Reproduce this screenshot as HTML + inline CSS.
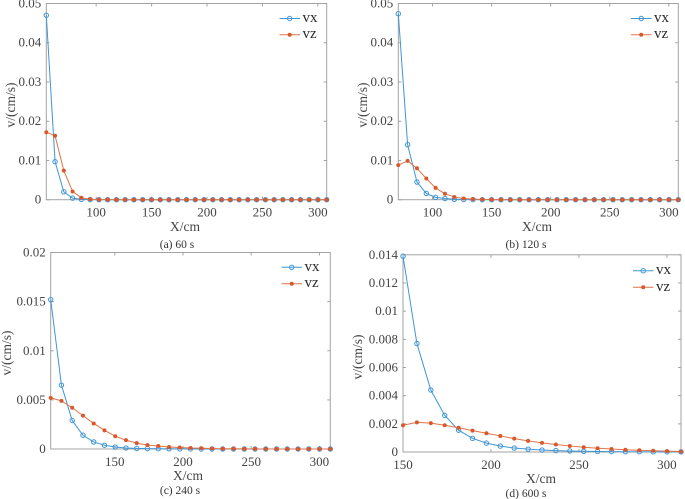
<!DOCTYPE html>
<html>
<head>
<meta charset="utf-8">
<style>
html,body{margin:0;padding:0;background:#fff;width:685px;height:499px;overflow:hidden}
svg{display:block;font-family:"Liberation Serif",serif;filter:blur(0.35px)}
</style>
</head>
<body>
<svg id="fig" width="685" height="499" viewBox="0 0 685 499" xmlns="http://www.w3.org/2000/svg"></svg>
<script>
// Panel (a) 60 s
const aStart = 55;
const aVx = [0.047,0.0097,0.002,0.0004,0.0001,0.00003,0.00001,0,0,0,0,0,0,0,0,0,0,0,0,0,0,0,0,0,0,0,0,0,0,0,0,0,0];
const aVz = [0.0172,0.0163,0.0074,0.0021,0.0005,0.0001,0.00003,0.00001,0,0,0,0,0,0,0,0,0,0,0,0,0,0,0,0,0,0,0,0,0,0,0,0,0];
const aYTicks = [0,0.01,0.02,0.03,0.04,0.05];
const aYLabels = ["0","0.01","0.02","0.03","0.04","0.05"];
const aXTicks = [100,150,200,250,300];

// Panel (b) 120 s
const bStart = 71;
const bVx = [0.0474,0.014,0.0045,0.0016,0.0006,0.0003,0.0001,0.00005,0.00002,0.00001,0,0,0,0,0,0,0,0,0,0,0,0,0,0,0,0,0,0,0,0,0];
const bVz = [0.0088,0.0099,0.008,0.0054,0.003,0.0015,0.0007,0.0003,0.00015,0.00007,0.00003,0.00001,0,0,0,0,0,0,0,0,0,0,0,0,0,0,0,0,0,0,0];
const bYTicks = [0,0.01,0.02,0.03,0.04,0.05];
const bYLabels = ["0","0.01","0.02","0.03","0.04","0.05"];
const bXTicks = [100,150,200,250,300];

// Panel (c) 240 s
const cStart = 103;
const cVx = [0.0152,0.0065,0.0029,0.0014,0.00072,0.00038,0.0002,0.0001,0.00006,0.00004,0.00003,0.00002,0.00001,0.00001,0,0,0,0,0,0,0,0,0,0,0,0,0];
const cVz = [0.0052,0.0049,0.0042,0.0034,0.0026,0.0019,0.0013,0.0009,0.0006,0.0004,0.0003,0.0002,0.00015,0.0001,0.00008,0.00005,0.00003,0.00002,0.00001,0.00001,0,0,0,0,0,0,0];
const cYTicks = [0,0.005,0.01,0.015,0.02];
const cYLabels = ["0","0.005","0.01","0.015","0.02"];
const cXTicks = [150,200,250,300];

// Panel (d) 600 s
const dStart = 150;
const dVx = [0.0139,0.0077,0.0044,0.0026,0.00155,0.00097,0.00063,0.00042,0.00028,0.0002,0.00014,0.0001,0.00007,0.00005,0.00004,0.00003,0.00002,0.00002,0.00001,0.00001,0.00001];
const dVz = [0.0019,0.0021,0.00205,0.0019,0.00172,0.00152,0.00133,0.00114,0.00095,0.00079,0.00065,0.00053,0.00043,0.00034,0.00027,0.00021,0.00016,0.00012,0.00009,0.00006,0.00004];
const dYTicks = [0,0.002,0.004,0.006,0.008,0.01,0.012,0.014];
const dYLabels = ["0","0.002","0.004","0.006","0.008","0.01","0.012","0.014"];
const dXTicks = [150,200,250,300];

const xEnd = 308;
const NS = "http://www.w3.org/2000/svg";
const fig = document.getElementById("fig");
const BLUE = "#3f95d4";
const ORANGE = "#e2734a";
const ORANGE_MARK = "#d9582b";
const AXIS = "#a3a3a3";
const TEXT = "#444444";

function mk(parent, tag, attrs, txt) {
  const el = document.createElementNS(NS, tag);
  for (const k in attrs) el.setAttribute(k, attrs[k]);
  if (txt !== undefined) el.textContent = txt;
  parent.appendChild(el);
  return el;
}
function label(parent, name, x, y, size, anchor, txt, fill, rot) {
  const attrs = {x: x, y: y, "font-size": size, "text-anchor": anchor, fill: fill || TEXT};
  if (rot) attrs.transform = "rotate(-90 " + x + " " + y + ")";
  const el = mk(parent, "text", attrs, txt);
  
  
  return el;
}
function drawPanel(p) {
  const g = mk(fig, "g", {});
  
  
  const xs = v => p.left + (v - p.start) / (xEnd - p.start) * (p.right - p.left);
  const ys = v => p.bottom - v / p.yMax * (p.bottom - p.top);

  const frame = mk(g, "rect", {x: p.left, y: p.top, width: p.right - p.left, height: p.bottom - p.top, fill: "none", stroke: AXIS, "stroke-width": 1});
  
  

  p.xTicks.forEach(t => {
    const x = xs(t);
    mk(g, "path", {d: "M" + x + " " + p.bottom + "v-3M" + x + " " + p.top + "v3", stroke: AXIS, fill: "none"});
    label(g, "x-tick-label", x, p.bottom + 17, 13, "middle", String(t));
  });
  p.yTicks.forEach((t, i) => {
    const y = ys(t);
    mk(g, "path", {d: "M" + p.left + " " + y + "h3M" + p.right + " " + y + "h-3", stroke: AXIS, fill: "none"});
    label(g, "y-tick-label", p.left - 5, y + 4, 13, "end", p.yLabels[i]);
  });

  const series = [
    {key: "vx", vals: p.vx, color: BLUE},
    {key: "vz", vals: p.vz, color: ORANGE}
  ];
  series.forEach(s => {
    const sg = mk(g, "g", {});
    
    
    const pts = s.vals.map((v, i) => xs(p.start + i * (xEnd - p.start) / (s.vals.length - 1)).toFixed(2) + "," + ys(v).toFixed(2));
    const line = mk(sg, "polyline", {points: pts.join(" "), fill: "none", stroke: s.color, "stroke-width": 1});
    
    
    pts.forEach(pt => {
      const c = pt.split(",");
      let m;
      if (s.key === "vx") {
        m = mk(sg, "circle", {cx: c[0], cy: c[1], r: 2.2, fill: "none", stroke: BLUE, "stroke-width": 1});
      } else {
        m = mk(sg, "circle", {cx: c[0], cy: c[1], r: 2, fill: ORANGE_MARK});
      }
      
      
    });
  });

  const lg = mk(g, "g", {});
  
  
  mk(lg, "line", {x1: p.legX, x2: p.legX + 20.5, y1: p.legY1, y2: p.legY1, stroke: BLUE, "stroke-width": 1});
  mk(lg, "circle", {cx: p.legX + 10.2, cy: p.legY1, r: 2.2, fill: "none", stroke: BLUE, "stroke-width": 1});
  label(lg, "legend-entry-vx", p.legX + 23, p.legY1 + 3.5, 15, "start", "vx", "#2a2a2a");
  mk(lg, "line", {x1: p.legX, x2: p.legX + 20.5, y1: p.legY2, y2: p.legY2, stroke: ORANGE, "stroke-width": 1});
  mk(lg, "circle", {cx: p.legX + 10.2, cy: p.legY2, r: 2, fill: ORANGE_MARK});
  label(lg, "legend-entry-vz", p.legX + 23, p.legY2 + 3.5, 15, "start", "vz", "#2a2a2a");

  label(g, "x-axis-title", p.xlabX, p.xlabY, 13.5, "middle", "X/cm");
  label(g, "y-axis-title", p.ylabX, p.ylabY, 13.5, "middle", "v/(cm/s)", TEXT, true);
  label(g, "panel-caption", p.capX, p.capY, 11.5, "middle", p.caption, "#333");
}

drawPanel({id: "a", caption: "(a) 60 s", start: aStart, vx: aVx, vz: aVz, yTicks: aYTicks, yLabels: aYLabels, xTicks: aXTicks, yMax: 0.05,
  left: 46.3, right: 326.7, top: 3.5, bottom: 199.7, legX: 279.5, legY1: 18.5, legY2: 34.7,
  xlabX: 185, xlabY: 231, ylabX: 15, ylabY: 105, capX: 177, capY: 248});
drawPanel({id: "b", caption: "(b) 120 s", start: bStart, vx: bVx, vz: bVz, yTicks: bYTicks, yLabels: bYLabels, xTicks: bXTicks, yMax: 0.05,
  left: 398.3, right: 678.3, top: 3.5, bottom: 199.7, legX: 631, legY1: 18.5, legY2: 34.7,
  xlabX: 537, xlabY: 231, ylabX: 367, ylabY: 105, capX: 526, capY: 248});
drawPanel({id: "c", caption: "(c) 240 s", start: cStart, vx: cVx, vz: cVz, yTicks: cYTicks, yLabels: cYLabels, xTicks: cXTicks, yMax: 0.02,
  left: 50.7, right: 330.3, top: 252.5, bottom: 449, legX: 281.5, legY1: 267.3, legY2: 283.7,
  xlabX: 188, xlabY: 480, ylabX: 11, ylabY: 353, capX: 180, capY: 494});
drawPanel({id: "d", caption: "(d) 600 s", start: dStart, vx: dVx, vz: dVz, yTicks: dYTicks, yLabels: dYLabels, xTicks: dXTicks, yMax: 0.014,
  left: 403, right: 681, top: 254.8, bottom: 452, legX: 633, legY1: 270.7, legY2: 287.3,
  xlabX: 541, xlabY: 483, ylabX: 362, ylabY: 357, capX: 526, capY: 497});
</script>
</body>
</html>
